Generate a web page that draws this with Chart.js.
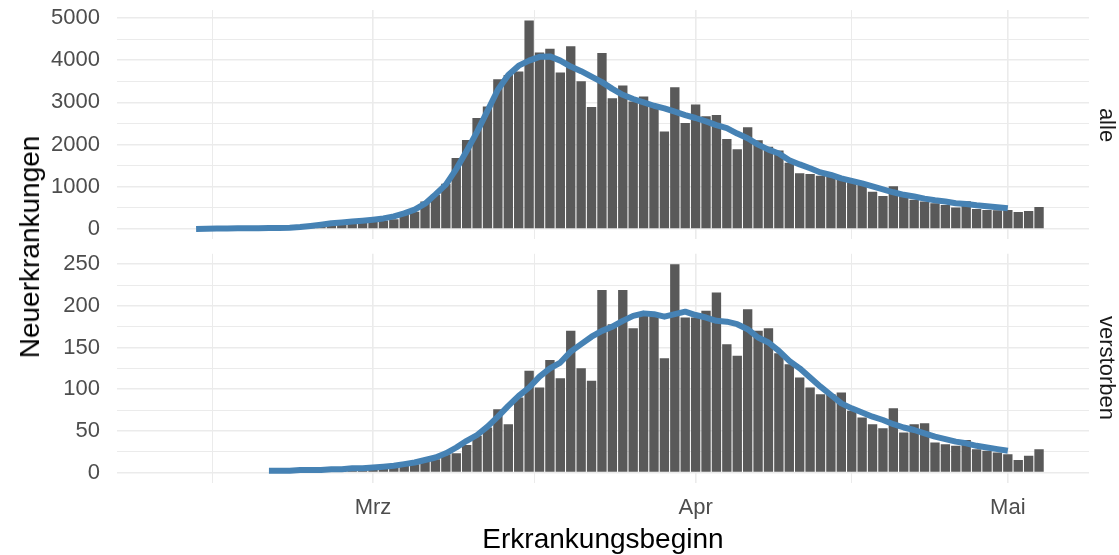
<!DOCTYPE html>
<html>
<head>
<meta charset="utf-8">
<script src="https://cdn.jsdelivr.net/npm/chart.js@4.4.1/dist/chart.umd.min.js"></script>
<style>
  html, body { margin: 0; padding: 0; background: #fff; overflow: hidden; }
  #wrap { position: relative; width: 1119px; height: 555px; font-family: "Liberation Sans", Arial, sans-serif; }
  canvas { position: absolute; left: 0; }
  .ytitle { position: absolute; left: 30px; top: 247px; transform: translate(-50%, -50%) rotate(-90deg); font-size: 28px; line-height: 1; color: #000; white-space: nowrap; }
  .strip { position: absolute; left: 1107px; transform: translate(-50%, -50%) rotate(90deg); font-size: 22px; line-height: 1; color: #1A1A1A; white-space: nowrap; }
</style>
</head>
<body>
<div id="wrap">
  <canvas id="c-alle" width="1119" height="250" style="top:0"></canvas>
  <canvas id="c-tot" width="1119" height="305" style="top:250px"></canvas>
  <div class="ytitle">Neuerkrankungen</div>
  <div class="strip" style="top:124.5px">alle</div>
  <div class="strip" style="top:368px">verstorben</div>
</div>
<script>
// ── Data (days counted from 1 March 2020) ─────────────────────────────────
const barStartDay = -16
const alleBars = [
  5, 8, 10, 12, 15, 15, 20, 25, 30, 40, 55, 75, 95, 110, 130, 150,
  170, 200, 230, 330, 410, 650, 810, 1070, 1680, 2110, 2630, 2900, 3550, 3650, 3730,
  4940, 4180, 4270, 3710, 4330, 3500, 2890, 4170, 3100, 3400, 3020, 3140, 2900, 2310, 3360, 2510,
  2950, 2670, 2700, 2130, 1890, 2410, 2100, 1950, 1860, 1570, 1320, 1300, 1260, 1270, 1210,
  1110, 1040, 880, 780, 1010, 780, 690, 650, 610, 570, 510, 660, 475, 450, 445,
  450, 400, 425, 520
]
const verstorbenBars = [
  1, 0, 0, 0, 1, 1, 1, 1, 2, 2, 2, 2, 3, 3, 3, 4,
  4, 6, 7, 9, 10, 14, 16, 22, 23, 33, 44, 54, 76, 58, 90,
  122, 102, 135, 113, 170, 125, 110, 219, 178, 219, 173, 188, 188, 137, 250, 186,
  186, 194, 216, 154, 140, 196, 170, 173, 143, 130, 114, 102, 94, 94, 96,
  74, 66, 58, 53, 77, 48, 58, 59, 36, 34, 32, 39, 28, 26, 24,
  22, 15, 20, 28
]

const alleLineStart = -17
const alleLine = [
  0, 5, 10, 12, 15, 18, 20, 22, 25, 30, 45, 70, 100, 135, 155, 175, 195,
  220, 250, 300, 370, 460, 600, 820, 1050, 1420, 1850, 2300, 2800, 3300, 3650, 3870,
  3990, 4080, 4090, 3990, 3850, 3740, 3610, 3480, 3320, 3180, 3080, 3000, 2920, 2860, 2780, 2700,
  2630, 2550, 2460, 2390, 2260, 2150, 2000, 1880, 1790, 1630, 1530, 1440, 1340, 1280, 1200,
  1140, 1080, 1010, 940, 870, 810, 770, 720, 680, 650, 610, 590, 560, 540, 515,
  490
]
const verstorbenLineStart = -10
const verstorbenLine = [
  2, 2, 2, 3, 3, 3, 4, 4, 5, 5,
  6, 7, 8, 10, 12, 15, 18, 23, 30, 38, 45, 55, 67, 80, 92,
  102, 115, 125, 132, 145, 154, 163, 170, 175, 182, 188, 191, 190, 187, 190, 193,
  189, 186, 182, 181, 178, 172, 162, 156, 146, 134, 125, 114, 103, 93, 83,
  77, 72, 67, 63, 58, 54, 51, 47, 43, 40, 37, 35, 32, 30, 28,
  26
]

// x axis: month breaks and minor breaks
const monthDays = [0, 31, 61]
const monthLabels = ['Mrz', 'Apr', 'Mai']
const minorDays = [-15.4, 15.5, 46]

// y axis breaks
const alleBreaks = [0, 500, 1000, 1500, 2000, 2500, 3000, 3500, 4000, 4500, 5000]
const alleLabelStep = 1000
const verstorbenBreaks = [0, 25, 50, 75, 100, 125, 150, 175, 200, 225, 250]
const verstorbenLabelStep = 50

// ── Styles ────────────────────────────────────────────────────────────────
const barColor = '#595959'
const lineColor = '#4682B4'
const gridColor = '#EBEBEB'
const tickColor = '#4D4D4D'
const fontFamily = '"Liberation Sans", Arial, sans-serif'

Chart.defaults.font.family = fontFamily

const toPoints = (start, values) => values.map((v, i) => ({ x: start + i, y: v }))

function xScale(withLabels) {
  return {
    type: 'linear',
    min: -24.6,
    max: 68.8,
    offset: false,
    border: { display: false },
    grid: {
      offset: false,
      drawTicks: false,
      color: gridColor,
      lineWidth: ctx => (ctx.tick && monthDays.includes(ctx.tick.value)) ? 1.6 : 1
    },
    afterBuildTicks: s => { s.ticks = [...minorDays, ...monthDays].sort((a, b) => a - b).map(v => ({ value: v })) },
    ticks: {
      display: withLabels,
      autoSkip: false,
      maxRotation: 0,
      padding: 12,
      color: tickColor,
      font: { size: 22 },
      callback: v => { const i = monthDays.indexOf(v); return i >= 0 ? monthLabels[i] : '' }
    },
    title: {
      display: withLabels,
      text: 'Erkrankungsbeginn',
      color: '#000',
      font: { size: 28 },
      padding: { top: 0, bottom: -2 }
    },
    afterFit: s => {
      s.height = withLabels ? 72.1 : 0
      s.paddingLeft = 0
      s.paddingRight = 0
    }
  }
}

function yScale(min, max, breaks, step) {
  return {
    min, max,
    border: { display: false },
    grid: {
      drawTicks: false,
      color: gridColor,
      lineWidth: ctx => (ctx.tick && ctx.tick.value % step === 0) ? 1.6 : 1
    },
    afterBuildTicks: s => { s.ticks = breaks.map(v => ({ value: v })) },
    ticks: {
      autoSkip: false,
      padding: 17,
      color: tickColor,
      font: { size: 22 },
      callback: v => v % step === 0 ? String(v) : ''
    },
    afterFit: s => {
      s.width = 117
      s.paddingTop = 0
      s.paddingBottom = 0
    }
  }
}

function makePanel(canvasId, bars, lineStart, line, y, withLabels, padding) {
  return new Chart(document.getElementById(canvasId), {
    type: 'bar',
    data: {
      datasets: [
        {
          type: 'line',
          data: toPoints(lineStart, line),
          borderColor: lineColor,
          borderWidth: 6,
          borderCapStyle: 'butt',
          borderJoinStyle: 'round',
          pointRadius: 0,
          tension: 0,
          order: 0
        },
        {
          type: 'bar',
          data: toPoints(barStartDay, bars),
          backgroundColor: barColor,
          borderWidth: 0,
          barPercentage: 0.9,
          categoryPercentage: 1,
          order: 1
        }
      ]
    },
    options: {
      responsive: false,
      animation: false,
      devicePixelRatio: 1,
      events: [],
      layout: { padding },
      plugins: { legend: { display: false }, tooltip: { enabled: false } },
      scales: { x: xScale(withLabels), y }
    }
  })
}

// ── Panels ────────────────────────────────────────────────────────────────
makePanel('c-alle', alleBars, alleLineStart, alleLine,
  yScale(-247, 5187, alleBreaks, alleLabelStep), false,
  { left: 0, right: 30, top: 10.1, bottom: 10.6 })

makePanel('c-tot', verstorbenBars, verstorbenLineStart, verstorbenLine,
  yScale(-12.5, 262.5, verstorbenBreaks, verstorbenLabelStep), true,
  { left: 0, right: 30, top: 3.8, bottom: 0 })
</script>
</body>
</html>
